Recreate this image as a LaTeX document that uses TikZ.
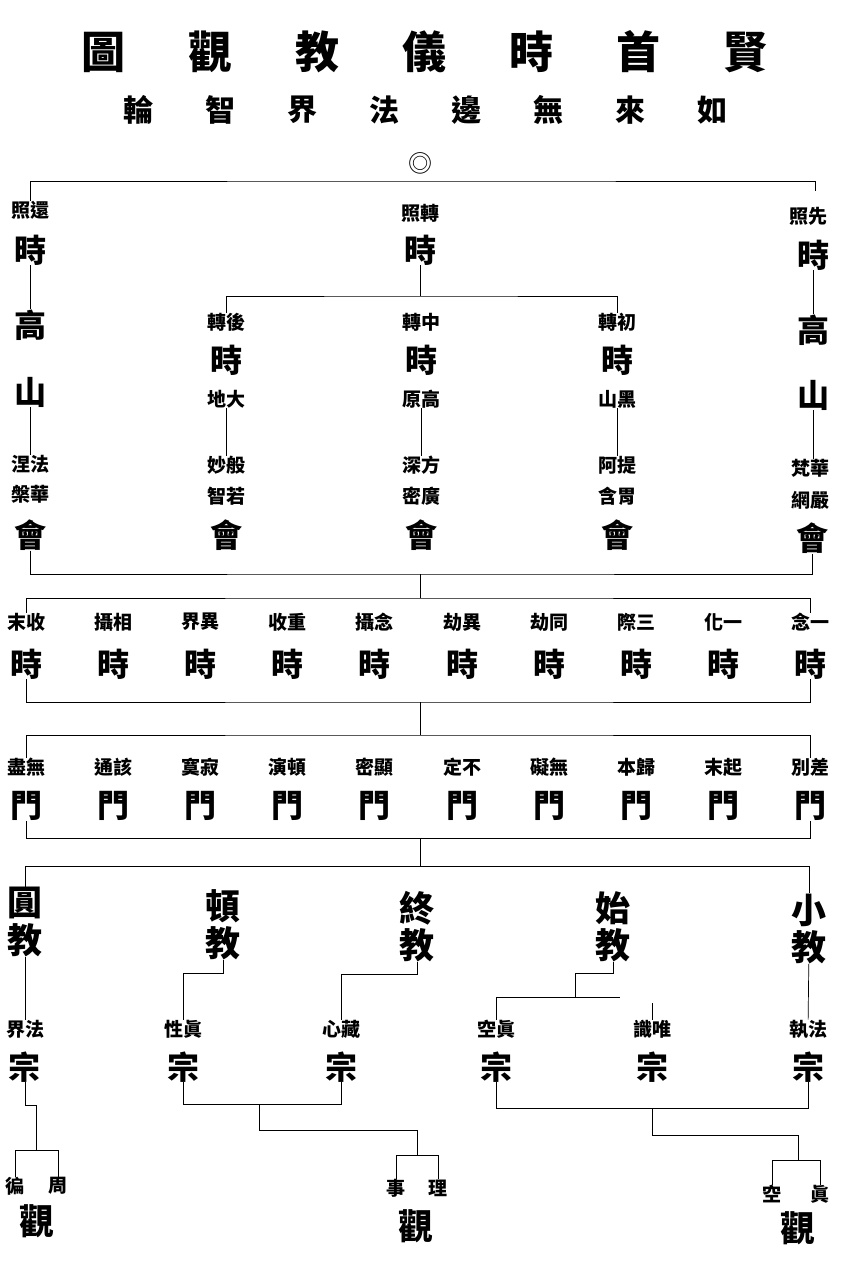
\documentclass[tikz,border=0pt]{standalone}
\usepackage{fontspec}
\newfontfamily\cjk{Noto Sans CJK TC}
\begin{document}
\begin{tikzpicture}
[%%%%%%%%%%%%%%%%%%%%%%%%%%%%%%
x=1pt,y=-1pt,
title/.style={font=\cjk\bfseries\fontsize{44}{44}\selectfont,inner sep=0pt},
sub/.style={font=\cjk\bfseries\fontsize{30}{30}\selectfont,inner sep=0pt},
lab/.style={font=\cjk\bfseries\fontsize{19}{19}\selectfont,inner sep=0pt},
big/.style={font=\cjk\bfseries\fontsize{32}{32}\selectfont,inner sep=0pt},
jiao/.style={font=\cjk\bfseries\fontsize{35}{35}\selectfont,inner sep=0pt},
line/.style={draw=black,line width=0.7pt},
]%%%%%%%%%%%%%%%%%%%%%%%%%%%%%%

\useasboundingbox[fill=white] (0,0) rectangle (846,1266);

\foreach \la [count=\i] in {圖,觀,教,儀,時,首,賢}
\node[title] (top\i) at ({103+107*(\i-1)},52) {\la};
\foreach \la [count=\i] in {輪,智,界,法,邊,無,來,如}
\node[sub] (sub\i) at ({138+82*(\i-1)},110) {\la};
\node[lab,font=\cjk\fontsize{24}{24}\selectfont] (ring) at (420,163) {◎};

\node[lab] (huanL) at (30,210) {照還};
\node[big] (huanT) at (30,250) {時};
\node[lab] (zhuanL) at (420,213) {照轉};
\node[big] (zhuanT) at (420,250) {時};
\node[lab] (xianL) at (808,216) {照先};
\node[big] (xianT) at (813,255) {時};

\coordinate (rootbus) at (420,181);
\coordinate (xiantip) at (815,191);
\draw[line] (huanL) |- (rootbus) -| (xiantip);

\node[big] (gaoL) at (30,325) {高};
\node[big] (shanL) at (30,392) {山};
\node[lab] (nieL) at (30,464) {涅法};
\node[lab] (panL) at (30,494) {槃華};
\node[big] (huiL) at (30,535) {會};
\draw[line] (huanT) -- (gaoL);
\draw[line] (shanL) -- (nieL);

\node[big] (gaoR) at (813,330) {高};
\node[big] (shanR) at (813,395) {山};
\node[lab] (fanR) at (810,468) {梵華};
\node[lab] (wangR) at (810,500) {網嚴};
\node[big] (huiR) at (812,538) {會};
\draw[line] (xianT) -- (gaoR);
\draw[line] (shanR) -- (shanR |- fanR.north);

\foreach \n/\x/\la/\lb/\lc/\ld in {hou/226/轉後/地大/妙般/智若, mid/421/轉中/原高/深方/密廣, chu/617/轉初/山黑/阿提/含胃}{
\node[lab] (\n L) at (\x,322) {\la};
\node[big] (\n T) at (\x,360) {時};
\node[lab] (\n D) at (\x,399) {\lb};
\node[lab] (\n A) at (\x,465) {\lc};
\node[lab] (\n B) at (\x,496) {\ld};
\node[big] (\n H) at (\x,535) {會};
\draw[line] (\n D) -- (\n A);
}
\coordinate (midbus) at (420,296);
\draw[line] (zhuanT) -- (midbus);
\draw[line] (houL) |- (midbus) -| (chuL);

\coordinate (huibus) at (420,574);
\coordinate (shibus) at (420,598);
\draw[line] (huiL) |- (huibus) -| (huiR);
\draw[line] (huibus) -- (shibus);

\foreach \la [count=\i] in {末收,攝相,界異,收重,攝念,劫異,劫同,際三,化一,念一}{
\node[lab] (s\i L) at ({26+87.2*(\i-1)},622) {\la};
\node[big] (s\i T) at ({26+87.2*(\i-1)},664) {時};
}
\draw[line] (s1L) |- (shibus) -| (s10L);
\coordinate (shiend) at (420,702);
\coordinate (menbus) at (420,735);
\draw[line] (s1T) |- (shiend) -| (s10T);
\draw[line] (shiend) -- (menbus);

\foreach \la [count=\i] in {盡無,通該,寞寂,演頓,密顯,定不,礙無,本歸,末起,別差}{
\node[lab] (m\i L) at ({26+87.2*(\i-1)},767) {\la};
\node[big] (m\i T) at ({26+87.2*(\i-1)},806) {門};
}
\draw[line] (m1L) |- (menbus) -| (m10L);
\coordinate (menend) at (420,838);
\coordinate (jiaobus) at (420,866);
\draw[line] (m1T) |- (menend) -| (m10T);
\draw[line] (menend) -- (jiaobus);

\foreach \n/\x/\la/\y in {yuan/25/圓/903, dun/223/頓/906, zhong/417/終/908, shi/613/始/908, xiao/809/小/910}{
\node[jiao] (\n Top) at (\x,\y) {\la};
\node[jiao] (\n Jiao) at (\x,\y+37) {教};
}
\draw[line] (yuanTop) |- (jiaobus) -| (xiaoTop);

\foreach \n/\x/\la in {jie/25/界法, xing/183/性眞, zang/341/心藏, kong/496/空眞, wei/652/識唯, zhi/808/執法}{
\node[lab] (\n L) at (\x,1029) {\la};
\node[big] (\n Z) at (\x,1067) {宗};
}
\draw[line] (yuanJiao) -- (jieL);
\coordinate (dunknee) at (223,973);
\draw[line] (dunJiao) -- (dunknee) -| (xingL);
\coordinate (zhongknee) at (417,974);
\draw[line] (zhongJiao) -- (zhongknee) -| (zangL);
\coordinate (shiknee) at (613,973);
\coordinate (shistep) at (575,997);
\coordinate (shiright) at (620,997);
\draw[line] (shiJiao) -- (shiknee) -| (shistep);
\draw[line] (kongL) |- (shiright);
\coordinate (weitip) at (652,1003);
\draw[line] (weitip) -- (weiL);
\draw[line] (xiaoJiao) -- (zhiL);

\node[lab] (bianX) at (15,1186) {徧};
\node[lab] (zhouX) at (58,1186) {周};
\node[jiao] (guanA) at (37,1221) {觀};
\coordinate (jieknee) at (25,1105);
\coordinate (zhoubus) at (36,1150);
\draw[line] (jieZ) -- (jieknee) -| (zhoubus);
\draw[line] (bianX) |- (zhoubus) -| (zhouX);

\node[lab] (shiX) at (396,1188) {事};
\node[lab] (liX) at (438,1188) {理};
\node[jiao] (guanB) at (416,1226) {觀};
\coordinate (xingbus) at (259,1104);
\coordinate (xingknee) at (259,1130);
\coordinate (libus) at (417,1155);
\draw[line] (xingZ) |- (xingbus) -| (zangZ);
\draw[line] (xingbus) -- (xingknee) -| (libus);
\draw[line] (shiX) |- (libus) -| (liX);

\node[lab] (kongX) at (772,1194) {空};
\node[lab] (zhenX) at (820,1194) {眞};
\node[jiao] (guanC) at (798,1228) {觀};
\coordinate (kongbus) at (652,1108);
\coordinate (kongknee) at (652,1135);
\coordinate (zhenbus) at (798,1160);
\draw[line] (kongZ) |- (kongbus) -| (zhiZ);
\draw[line] (kongbus) -- (kongknee) -| (zhenbus);
\draw[line] (kongX) |- (zhenbus) -| (zhenX);
\end{tikzpicture}
\end{document}
